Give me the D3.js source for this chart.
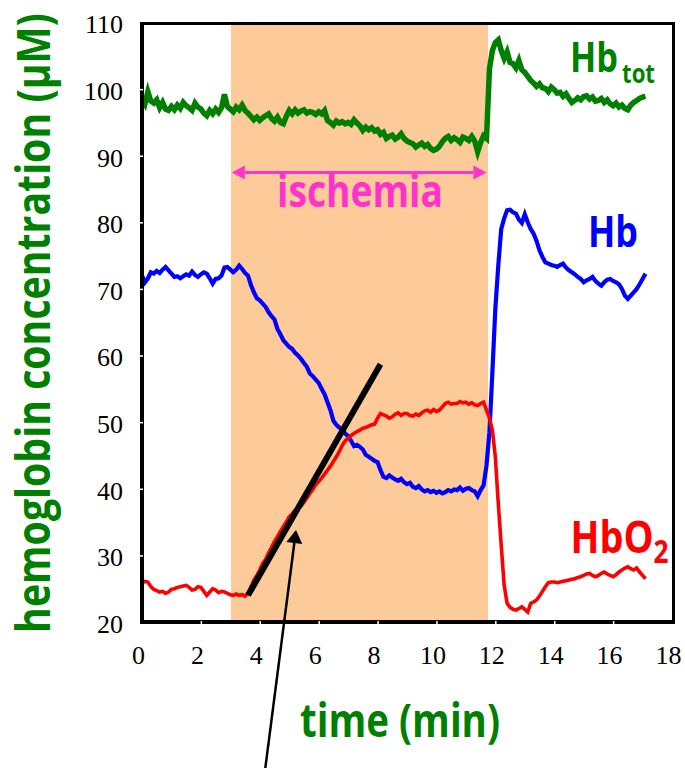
<!DOCTYPE html>
<html lang="en">
<head>
<meta charset="UTF-8">
<title>Hemoglobin concentration during ischemia</title>
<script src="https://d3js.org/d3.v7.min.js"></script>
<style>
  body { margin: 0; background: #fff; }
</style>
</head>
<body>
<div id="chart"></div>
<script>
// sampling grid in minutes (one reading every 0.1 min)
var times = d3.range(0, 172).map(function(i) { return i / 10; });

// total hemoglobin, uM
var hbTot = [
  98.6, 97.8, 99.6, 98.2, 97.9, 98.4, 97.2, 98.0, 97.0, 96.8,
  97.4, 96.9, 97.6, 97.1, 98.0, 97.5, 97.2, 96.8, 97.9, 97.3,
  97.0, 96.4, 96.0, 96.8, 96.3, 97.0, 96.5, 97.2, 99.2, 97.4,
  97.0, 96.6, 97.3, 96.9, 97.6, 96.8, 96.4, 95.9, 95.4, 95.8,
  95.3, 95.7, 96.0, 96.3, 95.6, 95.2, 95.8, 95.0, 94.8, 95.9,
  96.8, 96.3, 96.9, 96.4, 96.7, 96.9, 96.4, 96.6, 96.5, 96.2,
  96.6, 96.3, 96.8, 95.3, 95.0, 94.6, 95.2, 94.9, 95.1, 94.8,
  95.0, 94.7, 95.4, 94.9, 94.5, 93.8, 94.3, 93.9, 94.2, 93.7,
  93.9, 93.2, 93.5, 92.6, 92.9, 93.1, 92.5, 92.8, 93.3, 92.6,
  92.2, 92.0, 91.8, 91.3, 91.6, 91.9, 91.4, 91.7, 91.1, 90.8,
  91.0, 91.4, 92.1, 92.6, 92.9, 92.3, 92.7, 92.4, 92.0, 92.8,
  92.6, 92.3, 92.9, 92.2, 90.6, 92.0, 93.0, 92.6, 103.0, 105.8,
  107.0, 107.4, 105.8, 104.6, 105.6, 104.0, 103.8, 103.2, 104.3, 102.9,
  102.5, 101.9, 101.3, 100.9, 100.4, 100.8, 100.2, 100.1, 99.6, 100.3,
  99.9, 99.4, 99.5, 98.9, 99.3, 98.6, 98.0, 98.3, 98.7, 98.4,
  98.9, 99.0, 98.5, 98.8, 98.2, 98.3, 98.6, 98.0, 98.4, 97.8,
  97.5, 97.9, 97.3, 97.6, 97.1, 96.9, 97.6, 98.0, 98.3, 98.6,
  98.8, 98.9
];

// deoxy-hemoglobin, uM
var hb = [
  72.0, 71.0, 71.6, 72.5, 72.3, 72.7, 72.4, 72.9, 73.3, 72.8,
  72.3, 71.8, 71.9, 71.6, 71.9, 72.2, 72.0, 72.6, 72.1, 71.8,
  72.2, 72.5, 72.3, 71.6, 70.8, 71.5, 71.6, 72.0, 73.2, 73.3,
  72.9, 72.5, 72.9, 73.5, 73.0, 72.4, 72.0, 70.6, 69.5, 68.6,
  68.3, 67.8, 67.3, 66.5, 65.9, 65.4, 64.0, 63.2, 62.3, 61.8,
  61.3, 61.0, 60.4, 60.0, 59.5, 58.9, 58.3, 57.3, 56.9, 56.4,
  55.9, 55.0, 54.2, 53.0, 51.8, 50.2, 49.6, 49.2, 48.9, 48.3,
  47.9, 47.2, 46.4, 46.6, 46.3, 45.9, 45.1, 44.8, 44.5, 44.2,
  44.0, 42.8, 41.8, 41.6, 42.0, 41.7, 41.4, 41.2, 41.5, 41.0,
  40.7, 40.9, 40.3, 40.1, 40.4, 39.9, 39.6, 39.8, 39.5, 39.7,
  39.4, 39.6, 39.3, 39.5, 39.8, 39.6, 39.9, 39.8, 40.2, 39.7,
  40.0, 40.1, 39.8, 39.6, 38.9, 39.8, 40.5, 43.5, 48.5, 57.5,
  67.0, 73.5, 79.0, 80.6, 81.8, 81.9, 81.5, 81.3, 80.4, 79.9,
  81.2, 80.0, 79.0, 78.3, 77.2, 75.8, 74.8, 74.0, 73.8, 73.6,
  73.5, 73.3, 73.6, 73.8, 73.2, 72.8, 72.5, 72.2, 71.8, 71.5,
  71.0, 71.3, 71.5, 71.8, 71.2, 70.8, 70.5, 71.0, 71.4, 71.5,
  71.2, 71.0, 70.7, 70.0, 69.0, 68.5, 69.0, 69.5, 70.0, 70.7,
  71.5, 72.3
];

// oxy-hemoglobin, uM
var hbO2 = [
  25.8, 26.1, 26.0, 25.3, 24.9, 24.7, 24.5, 24.6, 24.3, 24.5,
  24.9, 25.0, 25.2, 25.3, 25.4, 25.5, 25.2, 24.8, 24.9, 25.3,
  25.2, 24.6, 24.0, 24.5, 25.0, 24.8, 24.4, 24.6, 24.5, 24.3,
  24.1, 24.0, 24.2, 24.0, 24.1, 23.9, 24.3, 25.2, 26.3, 27.0,
  27.8, 28.8, 29.4, 30.4, 31.2, 32.1, 32.8, 33.6, 34.3, 35.0,
  35.8, 36.2, 36.8, 37.1, 37.4, 38.0, 38.6, 39.3, 39.9, 40.6,
  41.1, 41.6, 42.2, 42.8, 43.4, 44.1, 44.8, 45.6, 46.5, 47.2,
  47.6, 48.0, 48.3, 48.6, 48.8, 49.1, 49.2, 49.4, 49.6, 49.7,
  50.6, 51.3, 51.1, 50.9, 50.6, 50.8, 51.2, 51.4, 51.0, 51.3,
  51.3, 51.0, 50.9, 51.2, 51.0, 51.4, 51.7, 51.8, 51.5, 51.9,
  51.6, 51.8, 52.3, 52.8, 53.0, 52.7, 52.8, 52.8, 53.1, 52.9,
  53.0, 52.7, 52.9, 52.6, 52.5, 52.8, 53.0, 51.8, 50.6, 48.8,
  44.8, 37.8, 31.5, 25.5, 22.8, 22.2, 21.9, 21.8, 22.0, 22.3,
  21.9, 21.5, 22.8, 23.0, 23.3, 23.9, 24.6, 25.3, 25.9, 26.0,
  26.0, 25.9, 26.0, 26.1, 26.2, 26.3, 26.4, 26.5, 26.7, 26.8,
  27.0, 27.2, 27.3, 27.0, 26.8, 27.0, 27.3, 27.5, 27.2, 27.0,
  26.8, 27.1, 27.5, 27.8, 28.1, 28.3, 28.0, 27.8, 28.1, 27.5,
  27.0, 26.5
];

var xTicks = [0, 2, 4, 6, 8, 10, 12, 14, 16, 18];
var yTicks = [20, 30, 40, 50, 60, 70, 80, 90, 100, 110];

// annotations (data units)
var ischemiaSpan = [3.02, 11.75];
var ischemiaArrow = [3.05, 11.7, 87.5];
var slopeLine = [[3.6, 24.0], [8.1, 58.7]];
var pointer = [[4.18, -2.2], [5.23, 33.8]];

var FONT = "'Open Sans', sans-serif";
var GREEN = "#008000", BLUE = "#0000ff", RED = "#ff0000", PINK = "#ff33cc";

var width = 685, height = 768;

var svg = d3.select("#chart")
    .append("svg")
    .attr("width", width)
    .attr("height", height);

var x = d3.scaleLinear().domain([0, 18]).range([142, 672]);
var y = d3.scaleLinear().domain([20, 110]).range([622, 22.5]);

// ischemia shading
svg.append("rect")
    .attr("x", x(ischemiaSpan[0]))
    .attr("y", y(110))
    .attr("width", x(ischemiaSpan[1]) - x(ischemiaSpan[0]))
    .attr("height", y(20) - y(110))
    .attr("fill", "#fdcb99");

// series
var series = [
    {values: hbTot, color: GREEN, w: 5.5},
    {values: hb, color: BLUE, w: 4.2},
    {values: hbO2, color: RED, w: 3.6}
];
var line = d3.line()
    .x(function(d) { return x(d[0]); })
    .y(function(d) { return y(d[1]); });

series.forEach(function(s) {
    svg.append("path")
        .datum(times.map(function(t, i) { return [t, s.values[i]]; }))
        .attr("fill", "none")
        .attr("stroke", s.color)
        .attr("stroke-width", s.w)
        .attr("stroke-linejoin", "miter")
        .attr("d", line);
});

// frame
svg.append("line").attr("x1", 142).attr("x2", 675).attr("y1", 23.5).attr("y2", 23.5)
    .attr("stroke", "#000").attr("stroke-width", 3);
svg.append("line").attr("x1", 673.5).attr("x2", 673.5).attr("y1", 22).attr("y2", 624)
    .attr("stroke", "#000").attr("stroke-width", 3);
svg.append("line").attr("x1", 142).attr("x2", 142).attr("y1", 22).attr("y2", 624)
    .attr("stroke", "#000").attr("stroke-width", 4);
svg.append("line").attr("x1", 140).attr("x2", 675).attr("y1", 622).attr("y2", 622)
    .attr("stroke", "#000").attr("stroke-width", 4);

// axes
svg.append("g")
    .attr("transform", "translate(0,624)")
    .call(d3.axisBottom(x).tickValues(xTicks).tickSize(-3).tickPadding(22).tickFormat(d3.format("d")))
    .call(function(g) { g.select(".domain").remove(); })
    .call(function(g) {
        g.selectAll(".tick line")
            .attr("stroke", "#fff").attr("stroke-width", 1.5)
            .attr("display", function(d) { return (d === 0 || d === 18) ? "none" : null; });
    })
    .call(function(g) {
        g.selectAll(".tick text")
            .attr("dx", -4)
            .attr("font-family", "'Liberation Serif', serif")
            .attr("font-size", 26)
            .attr("fill", "#000");
    });

svg.append("g")
    .attr("transform", "translate(140,0)")
    .call(d3.axisLeft(y).tickValues(yTicks).tickSize(-3).tickPadding(17))
    .call(function(g) { g.select(".domain").remove(); })
    .call(function(g) {
        g.selectAll(".tick line")
            .attr("stroke", "#fff").attr("stroke-width", 1.5)
            .attr("display", function(d) { return (d === 20 || d === 110) ? "none" : null; });
    })
    .call(function(g) {
        g.selectAll(".tick text")
            .attr("y", 2)
            .attr("font-family", "'Liberation Serif', serif")
            .attr("font-size", 26)
            .attr("fill", "#000");
    });

// slope line
svg.append("line")
    .attr("x1", x(slopeLine[0][0])).attr("y1", y(slopeLine[0][1]))
    .attr("x2", x(slopeLine[1][0])).attr("y2", y(slopeLine[1][1]))
    .attr("stroke", "#000").attr("stroke-width", 6);

function arrowHead(tip, from, len, halfW, color) {
    var dx = tip[0] - from[0], dy = tip[1] - from[1];
    var d = Math.sqrt(dx * dx + dy * dy);
    var ux = dx / d, uy = dy / d;
    var bx = tip[0] - ux * len, by = tip[1] - uy * len;
    var pts = [tip, [bx - uy * halfW, by + ux * halfW], [bx + uy * halfW, by - ux * halfW]];
    svg.append("polygon").attr("points", pts.map(function(p) { return p.join(","); }).join(" "))
        .attr("fill", color);
    return [bx, by];
}

// ischemia double arrow
var ay = y(ischemiaArrow[2]);
var a1 = [x(ischemiaArrow[0]), ay], a2 = [x(ischemiaArrow[1]), ay];
var b1 = arrowHead(a1, a2, 13, 7, PINK);
var b2 = arrowHead(a2, a1, 13, 7, PINK);
svg.append("line").attr("x1", b1[0]).attr("x2", b2[0]).attr("y1", ay).attr("y2", ay)
    .attr("stroke", PINK).attr("stroke-width", 3);

// pointer arrow
var p0 = [x(pointer[0][0]), y(pointer[0][1])], p1 = [x(pointer[1][0]), y(pointer[1][1])];
var pb = arrowHead(p1, p0, 13, 8, "#000");
svg.append("line").attr("x1", p0[0]).attr("y1", p0[1]).attr("x2", pb[0]).attr("y2", pb[1])
    .attr("stroke", "#000").attr("stroke-width", 2.5);

// text helper: fit width, stretch vertically
function addText(str, cx, by, targetW, color, stretch, rotate) {
    var g = svg.append("g");
    var t = g.append("text").text(str)
        .attr("font-family", FONT).attr("font-weight", 700)
        .attr("font-size", 40).attr("fill", color).attr("text-anchor", "middle");
    var len = t.node().getComputedTextLength();
    t.attr("font-size", 40 * targetW / len);
    g.attr("transform", "translate(" + cx + "," + by + ")" + (rotate ? " rotate(-90)" : "") +
        " scale(1," + stretch + ")");
    return t;
}

var S = 1.2;
addText("hemoglobin concentration (\u03bcM)", 50, 323, 620, GREEN, S, true);
addText("time (min)", 400, 737, 200, GREEN, S, false);
addText("ischemia", 360, 207, 166, PINK, S, false);
addText("Hb", 594, 72, 48, GREEN, S, false);
addText("tot", 638.5, 83, 33, GREEN, S, false);
addText("Hb", 613, 247, 50, BLUE, S, false);
addText("HbO", 612, 553, 83, RED, S, false);
addText("2", 661, 563, 15, RED, S, false);
</script>
</body>
</html>
